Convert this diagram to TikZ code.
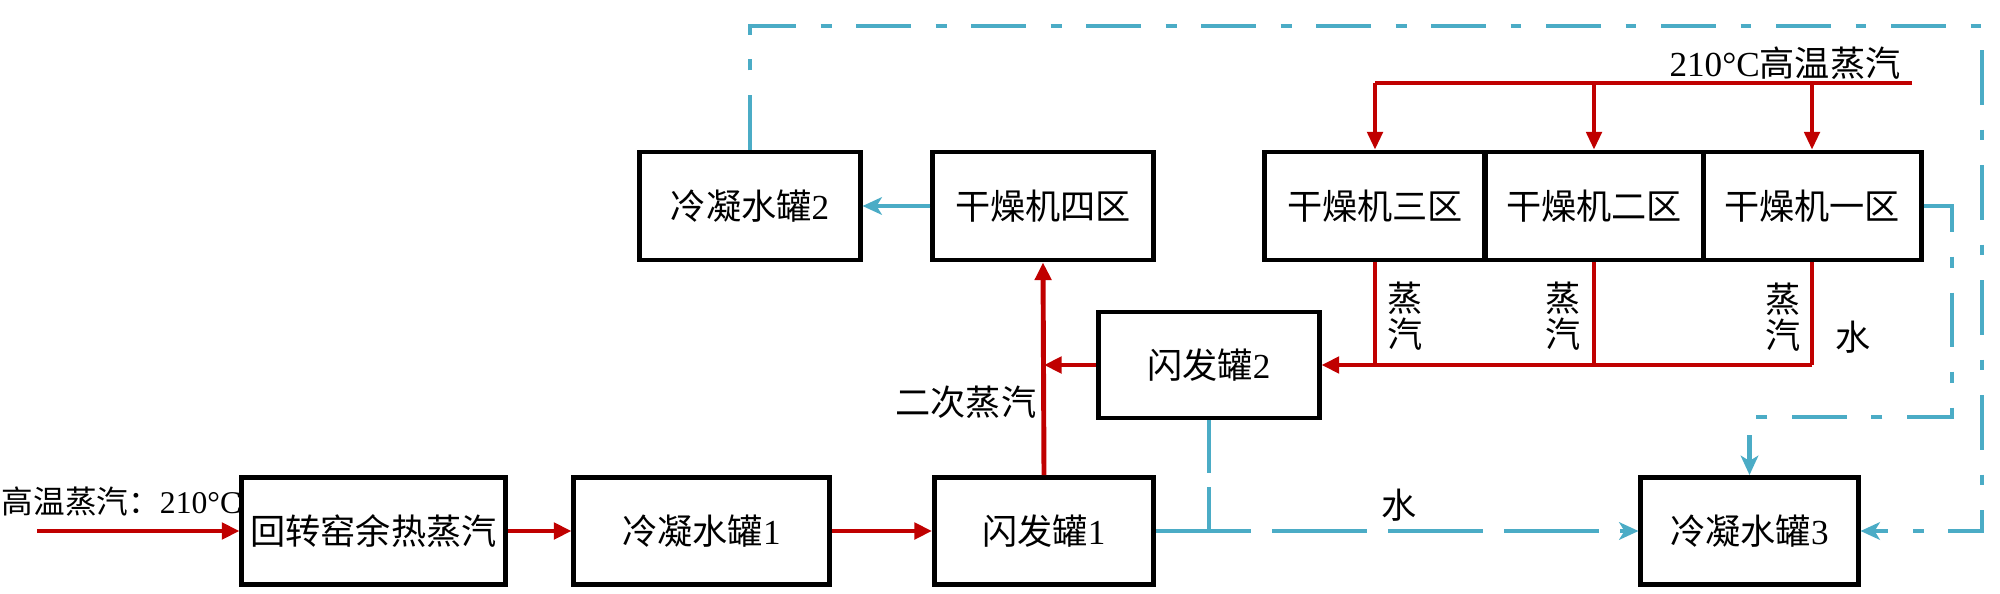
\documentclass[tikz,border=0pt]{standalone}
\usepackage{fontspec}
\setmainfont{Liberation Serif}
\newfontfamily\cjk{Noto Sans CJK SC}
\usetikzlibrary{arrows.meta}
\definecolor{steamred}{RGB}{192,0,0}
\definecolor{waterblue}{RGB}{75,172,198}
\begin{document}
\begin{tikzpicture}[x=0.01cm,y=-0.01cm,
  box/.style={draw=black,line width=1.4pt,minimum width=2.2cm,minimum height=1.07cm,inner sep=0pt,font=\fontsize{10pt}{10.2pt}\selectfont},
  lbl/.style={inner sep=0pt,font=\fontsize{10pt}{10.3pt}\selectfont,align=center},
  steam/.style={draw=steamred,line width=1.4pt,-{Triangle[length=5pt,width=4.6pt]}},
  steamthin/.style={draw=steamred,line width=1pt},
  steamdown/.style={draw=steamred,line width=1pt,-{Triangle[length=5pt,width=4.4pt]}},
  water/.style={draw=waterblue,line width=1.2pt,dash pattern=on 15.4pt off 7.1pt on 3.1pt off 7.1pt},
  waterarrow/.style={water,-{Stealth[length=5.5pt,width=5pt,inset=1.5pt]}},
  waterdash/.style={draw=waterblue,line width=1.2pt,dash pattern=on 27pt off 6pt},
  waterdasharrow/.style={waterdash,-{Stealth[length=5.5pt,width=5pt,inset=1.5pt]}}]
\useasboundingbox (0,0) rectangle (2000,594);

% boxes
\node[box,minimum width=2.63cm] (A) at (373.5,531) {\cjk 回转窑余热蒸汽};
\node[box,minimum width=2.55cm] (B) at (701.5,531) {{\cjk 冷凝水罐}1};
\node[box,minimum width=2.19cm] (C) at (1044,531) {{\cjk 闪发罐}1};
\node[box,minimum width=2.17cm] (D) at (1749.5,531) {{\cjk 冷凝水罐}3};
\node[box,minimum width=2.2cm,minimum height=1.06cm] (E) at (1209,365) {{\cjk 闪发罐}2};
\node[box,minimum width=2.2cm,minimum height=1.08cm] (F) at (1043,206) {\cjk 干燥机四区};
\node[box,minimum width=2.2cm,minimum height=1.08cm] (G) at (750,206) {{\cjk 冷凝水罐}2};
\node[box,minimum width=2.2cm,minimum height=1.08cm] (H3) at (1375,206) {\cjk 干燥机三区};
\node[box,minimum width=2.18cm,minimum height=1.08cm] (H2) at (1594,206) {\cjk 干燥机二区};
\node[box,minimum width=2.18cm,minimum height=1.08cm] (H1) at (1812,206) {\cjk 干燥机一区};

% labels
\node[lbl,anchor=west,font=\fontsize{9pt}{9.3pt}\selectfont] (tin) at (1,502) {{\cjk 高温蒸汽：}210°C};
\node[lbl] (ttop) at (1785,63) {210°C{\cjk 高温蒸汽}};
\node[lbl,anchor=east] (t2nd) at (1037,402) {\cjk 二次蒸汽};
\node[lbl] (twater1) at (1399,505) {\cjk 水};
\node[lbl] (twater2) at (1853,337) {\cjk 水};
\node[lbl] (tv3) at (1405,316) {\cjk 蒸\\\cjk 汽};
\node[lbl] (tv2) at (1563,316) {\cjk 蒸\\\cjk 汽};
\node[lbl] (tv1) at (1783,317) {\cjk 蒸\\\cjk 汽};

% steam flows (red)
\coordinate (in) at (37,531);
\draw[steam] (in) -- (A.west);
\draw[steam] (A.east) -- (B.west);
\draw[steam] (B.east) -- (C.west);
\draw[steam] (C.north) -- (F.south);
\draw[steam] (E.west) -- (E.west -| C.north);

\coordinate (sup) at (1912,83);
\draw[steamthin,line width=1.2pt] (sup) -- (H3.north |- sup);
\draw[steamdown] (H3.north |- sup) -- (H3.north);
\draw[steamdown] (H2.north |- sup) -- (H2.north);
\draw[steamdown] (H1.north |- sup) -- (H1.north);

\draw[steamthin] (H3.south) -- (H3.south |- E.east);
\draw[steamthin] (H2.south) -- (H2.south |- E.east);
\draw[steamthin] (H1.south) -- (H1.south |- E.east);
\draw[steam,line width=1.2pt] (H1.south |- E.east) -- (E.east);

% water flows (blue)
\coordinate (cr) at (1982,26);
\draw[waterarrow] (G.north) |- (cr) |- (D.east);
\draw[waterarrow] (F.west) -- (G.east);
\coordinate (loop) at (1952,417);
\draw[waterarrow] (H1.east) -| (loop) -| (D.north);
\draw[waterdasharrow] (C.east) -- (D.west);
\draw[waterdash,dash pattern=on 15pt off 4pt] (E.south) -- (E.south |- C.east);
\end{tikzpicture}
\end{document}
